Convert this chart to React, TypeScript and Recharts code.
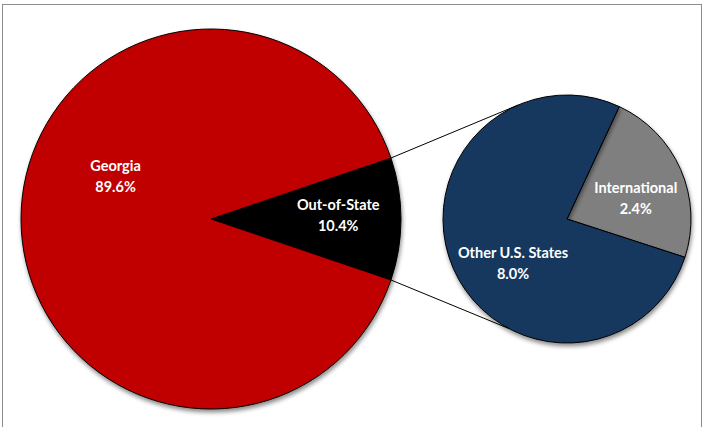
import React from "react";
import { PieChart, Pie, Cell, Customized } from "recharts";

// main pie
const mainNames = ["Out-of-State", "Georgia"];
const mainValues = [10.4, 89.6];
const mainColors = ["#000000", "#C00000"];

// secondary pie (breakdown of Out-of-State)
const subNames = ["International", "Other U.S. States"];
const subValues = [2.4, 8.0];
const subColors = ["#7F7F7F", "#17375E"];

const mainData = mainNames.map((name, i) => ({ name, value: mainValues[i] }));
const subData = subNames.map((name, i) => ({ name, value: subValues[i] }));

// layout
const W = 704;
const H = 427;
const MAIN = { cx: 211, cy: 219, r: 190 };
const SUB = { cx: 567, cy: 219, r: 124 };
const outAngle = (mainValues[0] / (mainValues[0] + mainValues[1])) * 360;
const mainStart = -outAngle / 2;
const subStart = -18;
// where the connector lines meet the small pie
const subTopAngle = 113;
const subBottomAngle = -118;

// label placement: angle (deg) and fraction of radius
const labelPos: Record<string, { a: number; f: number }> = {
  Georgia: { a: 156, f: 0.55 },
  "Out-of-State": { a: 2, f: 0.67 },
  International: { a: 17, f: 0.58 },
  "Other U.S. States": { a: 219, f: 0.56 },
};

const RAD = Math.PI / 180;

const renderLabel = (props: any) => {
  const { cx, cy, outerRadius, name, value } = props;
  const p = labelPos[name];
  const x = cx + outerRadius * p.f * Math.cos(p.a * RAD);
  const y = cy - outerRadius * p.f * Math.sin(p.a * RAD);
  return (
    <text
      x={x}
      y={y}
      textAnchor="middle"
      fill="#FFFFFF"
      fontFamily="Lato, 'Open Sans', sans-serif"
      fontWeight="bold"
      fontSize={14.5}
    >
      <tspan x={x} dy={-5}>{name}</tspan>
      <tspan x={x} dy={21}>{value.toFixed(1)}%</tspan>
    </text>
  );
};

const pt = (c: { cx: number; cy: number; r: number }, a: number) => ({
  x: c.cx + c.r * Math.cos(a * RAD),
  y: c.cy - c.r * Math.sin(a * RAD),
});

const Connectors = () => {
  const a1 = pt(MAIN, outAngle / 2);
  const a2 = pt(MAIN, -outAngle / 2);
  const b1 = pt(SUB, subTopAngle);
  const b2 = pt(SUB, subBottomAngle);
  return (
    <g>
      <line x1={a1.x} y1={a1.y} x2={b1.x} y2={b1.y} stroke="#000" strokeWidth={1} />
      <line x1={a2.x} y1={a2.y} x2={b2.x} y2={b2.y} stroke="#000" strokeWidth={1} />
    </g>
  );
};

const App = () => {
  return (
    <div style={{ position: "absolute", left: 0, top: 0, width: W, height: H, overflow: "hidden", background: "#fff" }}>
      <div
        style={{
          position: "absolute",
          left: 2,
          top: 4,
          width: 698,
          height: 440,
          border: "1px solid #8C8C8C",
        }}
      />
      <PieChart width={W} height={H} margin={{ top: 0, right: 0, bottom: 0, left: 0 }} style={{ position: "absolute", left: 0, top: 0 }}>
        <defs>
          <filter id="shadow" x="-20%" y="-20%" width="140%" height="140%">
            <feDropShadow dx={1} dy={3} stdDeviation={2} floodColor="#000" floodOpacity={0.45} />
          </filter>
        </defs>
        <Pie
          data={mainData}
          dataKey="value"
          nameKey="name"
          cx={MAIN.cx}
          cy={MAIN.cy}
          outerRadius={MAIN.r}
          startAngle={mainStart}
          endAngle={mainStart + 360}
          stroke="#000"
          strokeWidth={1}
          label={renderLabel}
          labelLine={false}
          isAnimationActive={false}
        >
          {mainData.map((d, i) => (
            <Cell key={d.name} fill={mainColors[i]} filter="url(#shadow)" />
          ))}
        </Pie>
        <Pie
          data={subData}
          dataKey="value"
          nameKey="name"
          cx={SUB.cx}
          cy={SUB.cy}
          outerRadius={SUB.r}
          startAngle={subStart}
          endAngle={subStart + 360}
          stroke="#000"
          strokeWidth={1}
          label={renderLabel}
          labelLine={false}
          isAnimationActive={false}
        >
          {subData.map((d, i) => (
            <Cell key={d.name} fill={subColors[i]} filter="url(#shadow)" />
          ))}
        </Pie>
        <Customized component={Connectors} />
      </PieChart>
    </div>
  );
};

export default App;
